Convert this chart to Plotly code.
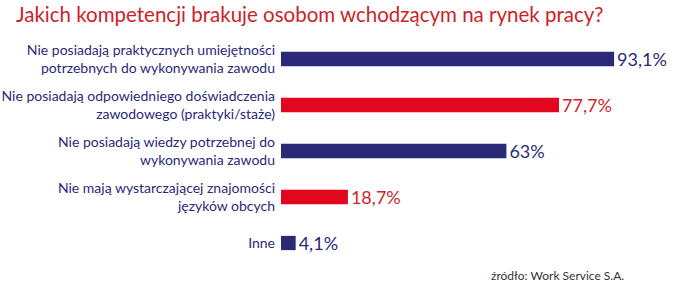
import plotly.graph_objects as go

categories = [
    "Nie posiadają praktycznych umiejętności<br>potrzebnych do wykonywania zawodu",
    "Nie posiadają odpowiedniego doświadczenia<br>zawodowego (praktyki/staże)",
    "Nie posiadają wiedzy potrzebnej do<br>wykonywania zawodu",
    "Nie mają wystarczającej znajomości<br>języków obcych",
    "Inne",
]
values = [93.1, 77.7, 63.0, 18.7, 4.1]
value_labels = ["93,1%", "77,7%", "63%", "18,7%", "4,1%"]
NAVY = "#2b2a78"
RED = "#e2061e"
RED_TXT = "#d0262c"
bar_colors = [NAVY, RED, NAVY, RED, NAVY]
text_colors = [NAVY, RED_TXT, NAVY, RED_TXT, NAVY]

FONT = "Lato"

fig = go.Figure(go.Bar(
    x=values, y=categories, orientation="h",
    marker=dict(color=bar_colors, line=dict(width=0)),
    width=0.31,
    text=value_labels, textposition="outside", constraintext="none",
    textfont=dict(family=FONT, size=18, color=text_colors),
    cliponaxis=False,
))

fig.update_layout(
    width=676, height=286,
    margin=dict(l=281, r=0, t=36, b=20),
    paper_bgcolor="white", plot_bgcolor="white",
    showlegend=False,
    xaxis=dict(range=[0, 110.4], visible=False),
    yaxis=dict(autorange=False, range=[4.5, -0.5], showgrid=False, zeroline=False,
               showline=False, ticks="", ticklabelstandoff=5,
               tickfont=dict(family=FONT, size=14, color=NAVY)),
    annotations=[
        dict(text="Jakich kompetencji brakuje osobom wchodzącym na rynek pracy?",
             xref="paper", yref="paper", x=-(281 - 14) / 395, y=1 + 22 / 230,
             xanchor="left", yanchor="middle",
             showarrow=False, font=dict(family=FONT, size=20.5, color="#cc1f2a")),
        dict(text="źródło: Work Service S.A.",
             xref="paper", yref="paper", x=(626 - 281) / 395, y=-(285 - 266) / 230,
             xanchor="right", yanchor="bottom", showarrow=False,
             font=dict(family=FONT, size=12, color="#333333")),
    ],
)

fig.write_html("out.html")
